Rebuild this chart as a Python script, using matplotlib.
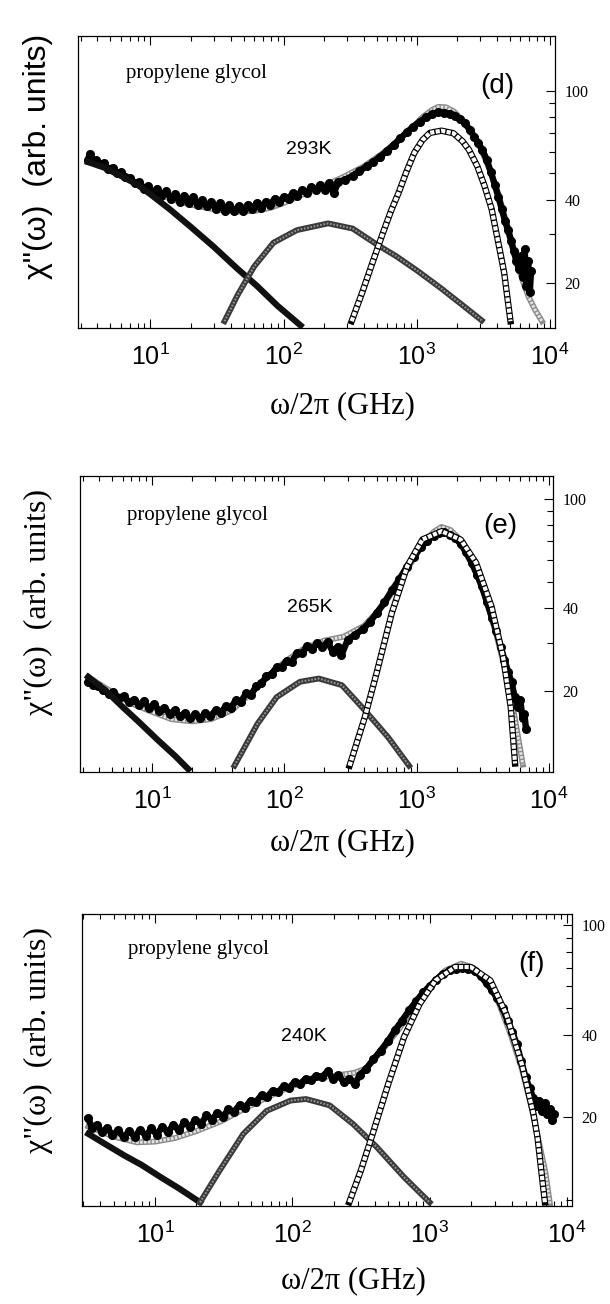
import math
import matplotlib
matplotlib.use('Agg')
import matplotlib.pyplot as plt
from matplotlib.ticker import FixedLocator, LogLocator, FuncFormatter, NullFormatter

plt.rcParams['lines.scale_dashes'] = False
plt.rcParams['font.family'] = ['Liberation Sans', 'DejaVu Sans']

# ---------------- panel (d) 293 K ----------------
d_data_f = [3.4, 3.5, 3.7, 3.9, 4.2, 4.5, 4.8, 5.2, 5.6, 6.0,
            6.5, 7.0, 7.6, 8.2, 8.9, 9.6, 10.4, 11.2, 12.1, 13.1,
            14.2, 15.3, 16.6, 17.9, 19.4, 21, 22.7, 24.5, 26.5, 28.7,
            31, 33.5, 36.3, 39.2, 42.4, 45.9, 49.6, 53.7, 58, 62.8,
            67.9, 73.4, 79.4, 85.9, 92.9, 100, 109, 118, 127, 138,
            149, 161, 174, 188, 204, 220, 238, 258, 290, 330,
            370, 420, 470, 530, 600, 670, 750, 840, 940, 1050,
            1170, 1300, 1450, 1600, 1760, 1930, 2100, 2300, 2500, 2700,
            2900, 3100, 3350, 3600, 3850, 4100, 4350, 4600, 4850, 5100,
            5350, 5600, 5850, 6050, 6250, 6450, 6650, 6850, 7050, 7200]
d_data_v = [56, 59, 55.5, 56, 54, 54.5, 52, 52.5, 50, 50.5,
            48.5, 48, 46, 46.5, 44, 45, 42.5, 44, 41.5, 43,
            40.5, 42, 39.5, 41.5, 39, 41, 38.5, 40, 38, 39.5,
            37, 39, 36.5, 38.5, 36.5, 38, 36.5, 38.5, 37, 39,
            37.5, 39.5, 38.5, 40.5, 39.5, 41, 40.5, 42.5, 41.5, 43.5,
            42.5, 44.5, 43.5, 45.5, 43.5, 46, 42.5, 46.5, 47.5, 49,
            51, 53, 55, 57.5, 60.5, 63.5, 67, 70.5, 74, 77,
            80, 82, 83.5, 83, 82.5, 81, 79, 76, 72, 68,
            64.5, 61, 56, 50.5, 45.5, 41, 37, 33.5, 31, 28.5,
            26, 24, 22.5, 25, 21, 26.5, 19.5, 24, 18.5, 22]
d_fit_f = [3.4, 4.5, 6, 8, 10, 14, 20, 30, 45, 60, 80, 100, 140, 200, 280,
           400, 550, 700, 900, 1100, 1300, 1450, 1650, 1900, 2200, 2600,
           3000, 3500, 4100, 4900, 5600, 6200, 6900, 7700, 8700]
d_fit_v = [55, 53, 49.5, 46, 43.5, 40.5, 38.5, 37, 36.3, 36.5, 37.5, 39, 42,
           45, 48.5, 53, 59, 65, 72.5, 80, 85, 87.3, 87, 84, 78, 70, 62, 52,
           42, 31, 24, 20.5, 17.8, 16, 14.5]
d_c1_f = [3.4, 4.5, 6, 8, 10, 14, 20, 30, 45, 63, 90, 134]
d_c1_v = [55, 52.5, 49, 45.5, 42, 37, 32, 27, 22.5, 19.5, 16.5, 14]
d_c2_f = [36, 45, 60, 84, 126, 216, 330, 505, 700, 1000, 1500, 2200, 3070]
d_c2_v = [14.5, 18, 22.9, 28, 31.1, 32.9, 31.5, 27.5, 25, 22.2, 19.2, 16.6, 14.6]
d_c3_f = [324, 390, 455, 557, 640, 730, 840, 957, 1100, 1254, 1530, 1880,
          2200, 2460, 2850, 3225, 3650, 3950, 4250, 4530, 4800, 5050]
d_c3_v = [14.5, 18.5, 23, 30.4, 36.5, 42.5, 51, 59.4, 66, 70.2, 71.5, 70,
          65.5, 61, 53, 45, 37, 30.5, 25.5, 21.7, 17.5, 14.5]

# ---------------- panel (e) 265 K ----------------
e_data_f = [3.3, 3.6, 3.9, 4.3, 4.7, 5.1, 5.6, 6.1, 6.7, 7.3,
            8.0, 8.7, 9.5, 10.4, 11.4, 12.4, 13.6, 14.8, 16.2, 17.7,
            19.4, 21.2, 23.1, 25.3, 27.6, 30.2, 33, 36, 39.4, 43,
            47, 51.4, 56.2, 61.4, 67.1, 73.3, 80.1, 87.5, 95.6, 104,
            114, 125, 136, 149, 163, 178, 194, 212, 232, 253,
            270, 300, 340, 390, 440, 500, 570, 650, 740, 840,
            950, 1070, 1200, 1340, 1480, 1620, 1780, 1950, 2150, 2350,
            2600, 2850, 3100, 3400, 3700, 4000, 4300, 4600, 4900, 5200,
            5500, 5800, 6050, 6300, 6500, 6700]
e_data_v = [21.6, 21, 20.8, 20.2, 19.5, 19.8, 18.8, 19.2, 18.2, 18.6,
            17.8, 18.4, 17.3, 17.9, 16.9, 17.4, 16.5, 17.0, 16.2, 16.6,
            15.9, 16.5, 15.9, 16.6, 16.2, 17, 16.6, 17.6, 17.4, 18.5,
            18.3, 19.6, 19.4, 20.8, 21.3, 22.6, 23.1, 24.4, 24.4, 25.8,
            25.6, 27.5, 27.4, 29.2, 28.5, 30, 28.8, 30.2, 27.8, 29,
            27, 30.6, 32, 33.5, 35.5, 38.5, 42, 46.5, 51, 56.5,
            61.5, 66.5, 70.5, 73.5, 75, 75.5, 74, 72, 68.5, 64,
            58.5, 53, 48, 42, 37, 33, 29, 26, 23.5, 21.5,
            19, 17.5, 18.5, 16, 16.5, 14.5]
e_fit_f = [3.3, 5, 7, 10, 14, 20, 28, 40, 55, 75, 100, 140, 200, 280, 400,
           560, 800, 1100, 1350, 1540, 1800, 2200, 2700, 3300, 4000, 4800,
           5500, 6330]
e_fit_v = [22.5, 19.8, 18, 16.8, 15.8, 15.5, 15.8, 17, 19.5, 22.5, 25.5, 28.5,
           30.5, 31.5, 34.5, 41, 53, 68, 76, 79, 77, 70, 58, 44, 32, 22.5, 16,
           10.8]
e_c1_f = [3.3, 4.5, 6, 8, 11, 15, 18.8]
e_c1_v = [22.5, 20, 17.5, 15.4, 13.3, 11.6, 10.4]
e_c2_f = [42, 62.7, 87.5, 131, 182, 272, 406, 606, 875]
e_c2_v = [10.7, 15.2, 19, 21.6, 22.2, 21, 17, 13.6, 10.7]
e_c3_f = [311, 406, 496, 648, 847, 1105, 1540, 2150, 2810, 3670, 4490, 5130, 5530]
e_c3_v = [10.7, 16.1, 23.1, 38.4, 56.8, 71.1, 76.2, 71, 58.4, 40.6, 26.6, 17.5, 10.9]

# ---------------- panel (f) 240 K ----------------
f_data_f = [3.27, 3.5, 3.8, 4.1, 4.5, 4.9, 5.4, 5.9, 6.5, 7.1,
            7.8, 8.6, 9.4, 10.3, 11.3, 12.4, 13.6, 14.9, 16.4, 18,
            19.7, 21.6, 23.7, 26, 28.5, 31.3, 34.3, 37.6, 41.3, 45.3,
            49.7, 54.5, 59.8, 65.6, 72, 79, 86.6, 95, 104, 114,
            125, 137, 150, 165, 181, 198, 217, 238, 261, 285,
            310, 345, 390, 440, 500, 560, 630, 710, 800, 900,
            1000, 1120, 1250, 1400, 1560, 1730, 1920, 2130, 2350, 2600,
            2850, 3100, 3400, 3700, 4000, 4300, 4650, 5000, 5350, 5700,
            6000, 6300, 6600, 6900, 7200, 7500, 7800, 8100]
f_data_v = [19.8, 18.2, 18.8, 17.6, 18.3, 17.2, 17.9, 16.9, 17.8, 17,
            18, 17.1, 18.2, 17.3, 18.5, 17.6, 18.8, 17.9, 19.2, 18.4,
            19.6, 18.9, 20.3, 19.6, 20.8, 20.1, 21.4, 20.9, 22.2, 21.7,
            23, 22.8, 24.1, 23.7, 25, 24.7, 26, 25.6, 26.9, 26.5,
            27.6, 27.4, 28.3, 28.1, 29.4, 27.6, 28.4, 26.8, 27.6, 26.4,
            28.5, 30, 32.5, 35, 38, 41.5, 45, 49, 53, 57,
            60, 63.5, 66.5, 68.5, 69.5, 70, 69.5, 68, 65.5, 61.5,
            58, 54.5, 50, 45, 41, 37, 32, 28, 25.5, 23.5,
            22, 23, 21, 22.5, 20.5, 21.5, 19.5, 20.5]
f_fit_f = [3.27, 5, 7.4, 10, 14, 20, 30, 45, 70, 100, 150, 200, 280, 340, 440,
           600, 800, 1000, 1300, 1700, 2100, 2600, 3200, 3900, 4700, 5500,
           6300, 7000, 7520]
f_fit_v = [18.5, 17, 16.2, 16.3, 16.8, 17.8, 19.3, 21.5, 24, 26, 27.8, 28.3,
           29, 30, 34.5, 42, 52, 60, 68.5, 72.5, 70, 63, 52, 40, 30, 22, 16,
           12.5, 9.7]
f_c1_f = [3.27, 4.5, 6, 8, 11, 15, 21.3]
f_c1_v = [17.4, 15.8, 14.5, 13.4, 12.1, 11, 9.8]
f_c2_f = [21.3, 29.6, 44, 65, 97, 126, 187, 277, 411, 652, 1000]
f_c2_v = [9.8, 12.8, 17.4, 21.1, 23, 23.3, 22.1, 18.9, 15.6, 12.1, 9.8]
f_c3_f = [260, 316, 385, 501, 652, 848, 1105, 1535, 1995, 2770, 3610, 4690,
          5720, 6110, 6920]
f_c3_v = [9.8, 12.8, 17.4, 26.5, 39.2, 51.8, 63, 70.5, 70.5, 63, 47.6, 31.3,
          20.5, 16.9, 9.8]

y_major = [20, 40, 100]
y_minor = [10, 30, 50, 60, 70, 80, 90]

panels = [
    dict(pos=[78/610, 1-328/1304, 477/610, 292/1304], xlim=(2.86, 1.09e4), ylim=(13.7, 158),
         data=(d_data_f, d_data_v), fit=(d_fit_f, d_fit_v), c1=(d_c1_f, d_c1_v),
         c2=(d_c2_f, d_c2_v), c3=(d_c3_f, d_c3_v),
         letter='(d)', temp='293K', glyc=(0.10, 0.873), let=(0.88, 0.83), tmp=(0.484, 0.613),
         xlab=(0.562, 0.689), ylab=(0.062, 0.880), yfont='Liberation Sans'),
    dict(pos=[80/610, 1-772/1304, 473/610, 296/1304], xlim=(2.86, 1.07e4), ylim=(10.15, 121),
         data=(e_data_f, e_data_v), fit=(e_fit_f, e_fit_v), c1=(e_c1_f, e_c1_v),
         c2=(e_c2_f, e_c2_v), c3=(e_c3_f, e_c3_v),
         letter='(e)', temp='265K', glyc=(0.10, 0.868), let=(0.888, 0.83), tmp=(0.485, 0.557),
         xlab=(0.561, 0.354), ylab=(0.062, 0.538), yfont='Liberation Serif'),
    dict(pos=[82/610, 1-1206/1304, 490/610, 292/1304], xlim=(2.94, 1.09e4), ylim=(9.5, 110),
         data=(f_data_f, f_data_v), fit=(f_fit_f, f_fit_v), c1=(f_c1_f, f_c1_v),
         c2=(f_c2_f, f_c2_v), c3=(f_c3_f, f_c3_v),
         letter='(f)', temp='240K', glyc=(0.094, 0.877), let=(0.917, 0.83), tmp=(0.453, 0.582),
         xlab=(0.58, 0.018), ylab=(0.062, 0.2025), yfont='Liberation Serif'),
]

fig = plt.figure(figsize=(6.1, 13.04), dpi=100)

for p in panels:
    ax = fig.add_axes(p['pos'])
    ax.set_xscale('log')
    ax.set_yscale('log')

    # total fit: chain of light open circles
    ax.plot(*p['fit'], color='#8a8a8a', lw=4.2, zorder=2)
    ax.plot(*p['fit'], color='#e4e4e4', lw=2.2, dashes=(1.8, 1.0), zorder=2)
    # data: filled dots
    ax.plot(*p['data'], color='k', lw=4.6, zorder=3)
    ax.plot(*p['data'], 'o', color='k', ms=5.5, zorder=3)
    # low-frequency component
    ax.plot(*p['c1'], color='#111111', lw=4.5, zorder=4)
    # middle component
    ax.plot(*p['c2'], color='#3a3a3a', lw=4.2, zorder=4)
    ax.plot(*p['c2'], color='#9a9a9a', lw=1.4, dashes=(1.2, 1.2), zorder=4)
    # high-frequency component: open squares
    ax.plot(*p['c3'], color='k', lw=4.6, zorder=5)
    ax.plot(*p['c3'], color='w', lw=3.0, dashes=(3.0, 1.0), zorder=5)

    ax.set_xlim(*p['xlim'])
    ax.set_ylim(*p['ylim'])

    ax.xaxis.set_major_locator(LogLocator(base=10, numticks=10))
    ax.xaxis.set_minor_locator(LogLocator(base=10, subs=range(2, 10), numticks=20))
    ax.xaxis.set_major_formatter(FuncFormatter(lambda v, pos: r'$\mathregular{10^{%d}}$' % round(math.log10(v))))
    ax.xaxis.set_minor_formatter(NullFormatter())
    ax.yaxis.set_major_locator(FixedLocator(y_major))
    ax.yaxis.set_minor_locator(FixedLocator(y_minor))
    ax.yaxis.set_major_formatter(FuncFormatter(lambda v, pos: '%d' % v))
    ax.yaxis.set_minor_formatter(NullFormatter())

    ax.tick_params(axis='x', which='both', direction='in', top=True, bottom=True,
                   labelsize=18, pad=11, width=0.8, labelfontfamily='Liberation Sans')
    ax.tick_params(axis='x', which='major', length=6.5)
    ax.tick_params(axis='x', which='minor', length=3.6)
    ax.tick_params(axis='y', which='both', direction='in', left=False, right=True,
                   labelleft=False, labelright=True, labelsize=11.5, pad=7, width=0.8,
                   labelfontfamily='Liberation Serif')
    ax.tick_params(axis='y', which='major', length=6.5)
    ax.tick_params(axis='y', which='minor', length=4)
    for s in ax.spines.values():
        s.set_linewidth(0.9)

    ax.text(*p['glyc'], 'propylene glycol', transform=ax.transAxes, fontsize=15,
            family='Liberation Serif', ha='left', va='center')
    ax.text(*p['let'], p['letter'], transform=ax.transAxes, fontsize=20,
            ha='center', va='center')
    ax.text(*p['tmp'], p['temp'], transform=ax.transAxes, fontsize=14,
            ha='center', va='center')

    fig.text(*p['xlab'], 'ω/2π (GHz)', fontsize=22, family='Liberation Serif',
             ha='center', va='center')
    fig.text(*p['ylab'], 'χ"(ω)  (arb. units)', fontsize=23, family=p['yfont'],
             rotation=90, ha='center', va='center')

fig.savefig('out.png', dpi=100, facecolor='white')
